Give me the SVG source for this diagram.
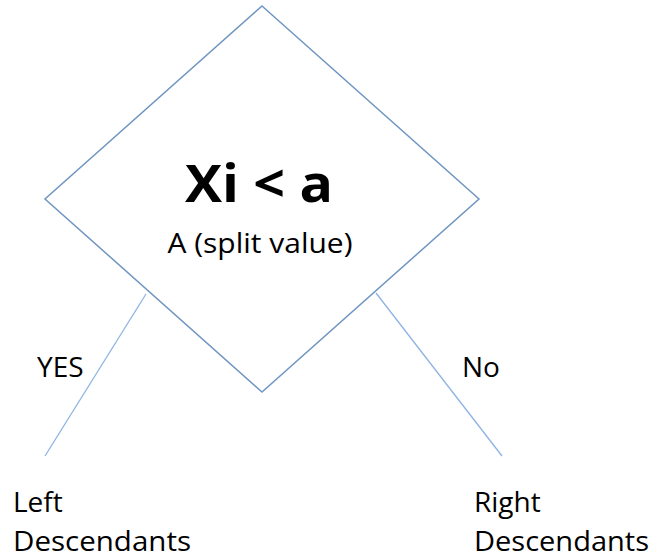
<svg xmlns="http://www.w3.org/2000/svg" width="654" height="559" viewBox="0 0 654 559">
<style>
.t{font-family:"Open Sans","Liberation Sans",sans-serif;font-size:28px;fill:#000}
.b{font-weight:bold;font-size:52px}
.edge{stroke:#8db4e2;stroke-width:1.3;fill:none}
</style>
<rect width="654" height="559" fill="#fff"/>
<g id="decision">
<polygon points="262,6 479,199 262,392 45,199" fill="#fff" stroke="#6f95c2" stroke-width="1.5"/>
<text class="t b" x="259" y="202" text-anchor="middle" textLength="148" lengthAdjust="spacingAndGlyphs">Xi &lt; a</text>
<text class="t" x="260" y="253" text-anchor="middle" textLength="185" lengthAdjust="spacingAndGlyphs">A (split value)</text>
</g>
<g id="connectors">
<line class="edge" x1="146" y1="294" x2="45" y2="456"/>
<line class="edge" x1="376" y1="293" x2="502" y2="456"/>
<text class="t" x="37" y="377">YES</text>
<text class="t" x="462" y="377">No</text>
</g>
<g id="left">
<text class="t" x="13" y="512">Left</text>
<text class="t" x="13" y="551" textLength="178" lengthAdjust="spacingAndGlyphs">Descendants</text>
</g>
<g id="right">
<text class="t" x="474" y="512">Right</text>
<text class="t" x="474" y="551" textLength="175" lengthAdjust="spacingAndGlyphs">Descendants</text>
</g>
</svg>
